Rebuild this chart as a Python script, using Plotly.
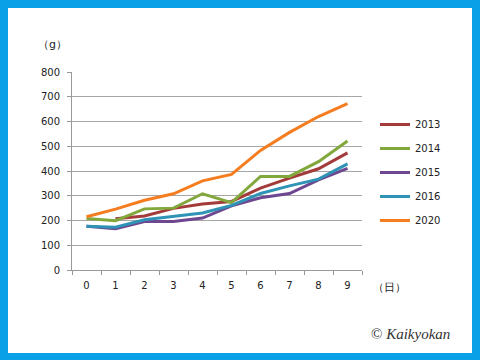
import plotly.graph_objects as go

days = ["0", "1", "2", "3", "4", "5", "6", "7", "8", "9"]
y2013 = [None, 207, 218, 249, 267, 277, 331, 371, 409, 473]
y2014 = [208, 199, 247, 250, 308, 272, 378, 378, 438, 521]
y2015 = [177, 167, 196, 196, 210, 259, 292, 309, 364, 411]
y2016 = [177, 173, 203, 216, 230, 261, 309, 340, 367, 429]
y2020 = [215, 246, 282, 308, 360, 386, 483, 556, 620, 672]
series_names = ["2013", "2014", "2015", "2016", "2020"]
series_values = [y2013, y2014, y2015, y2016, y2020]
colors = ["#A33B3B", "#82A83C", "#6E4790", "#2F93B5", "#F57D20"]
y_ticks = [0, 100, 200, 300, 400, 500, 600, 700, 800]

fig = go.Figure()
for name, vals, c in zip(series_names, series_values, colors):
    fig.add_trace(go.Scatter(x=days, y=vals, name=name, mode="lines",
                             line=dict(color=c, width=3), legendgroup=name,
                             connectgaps=False))

W, H = 480, 360
L, R, T, B = 72, 118, 72, 90
pw, ph = W - L - R, H - T - B

def px(x):
    return (x - L) / pw

def py(y):
    return (H - B - y) / ph

fig.add_shape(type="rect", xref="paper", yref="paper",
              x0=px(8), x1=px(472), y0=py(353), y1=py(8),
              fillcolor="white", line=dict(width=0), layer="below")

font = "DejaVu Sans, Verdana, sans-serif"
fig.update_layout(
    width=W, height=H,
    margin=dict(l=L, r=R, t=T, b=B, autoexpand=False),
    paper_bgcolor="#0AA0E8",
    plot_bgcolor="white",
    font=dict(family=font, size=10, color="#222222"),
    showlegend=True,
    legend=dict(x=px(375), y=py(110), xanchor="left", yanchor="top",
                bgcolor="rgba(0,0,0,0)", tracegroupgap=5,
                font=dict(size=10, family=font, color="#222222")),
    xaxis=dict(type="category", tickson="boundaries", ticks="outside",
               ticklen=4, tickcolor="#999999", showline=True,
               linecolor="#999999", linewidth=1, showgrid=False,
               range=[-0.5, 9.5], fixedrange=True, ticklabelstandoff=6),
    yaxis=dict(range=[0, 800], tickvals=y_ticks, ticks="outside", ticklen=4,
               tickcolor="#999999", showline=True, linecolor="#999999",
               linewidth=1, showgrid=True, gridcolor="#A6A6A6", gridwidth=1,
               zeroline=False, fixedrange=True, ticklabelstandoff=5),
    annotations=[
        dict(text="（g）", x=px(52), y=py(44), xref="paper", yref="paper",
             xanchor="center", yanchor="middle",
             showarrow=False, font=dict(size=11)),
        dict(text="（日）", x=px(389), y=py(287), xref="paper", yref="paper",
             xanchor="center", yanchor="middle",
             showarrow=False, font=dict(size=11)),
        dict(text="© <i>Kaikyokan</i>", x=px(410), y=py(334), xref="paper",
             yref="paper", showarrow=False, xanchor="center", yanchor="middle",
             font=dict(size=15, family="Liberation Serif, serif", color="#333333")),
    ],
)

fig.write_html("out.html", config={"displayModeBar": False},
               post_script="document.body.style.margin='0';document.body.style.overflow='hidden';")
